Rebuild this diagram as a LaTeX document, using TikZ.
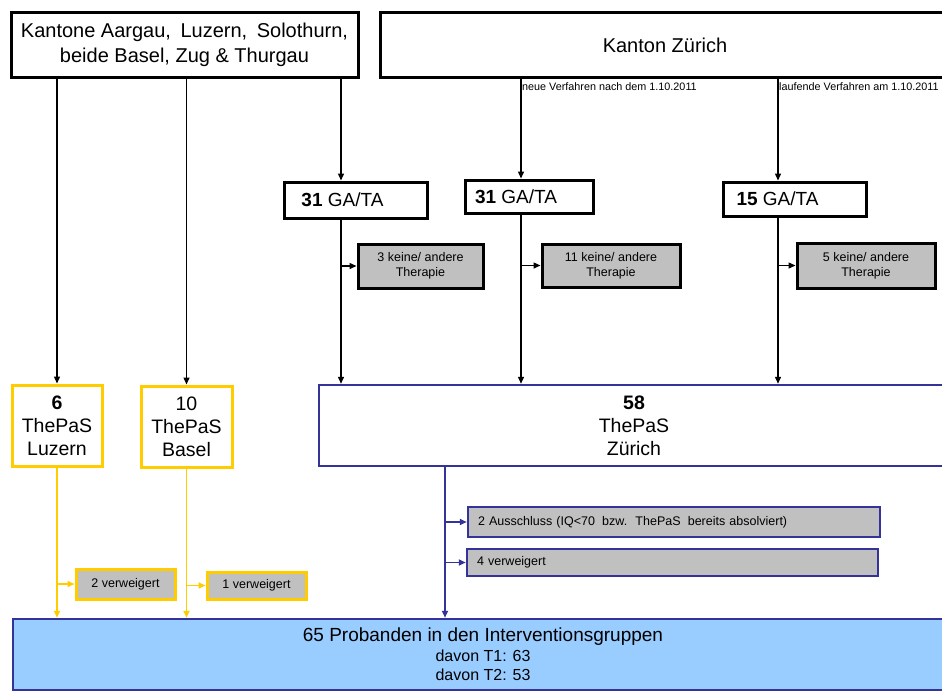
\documentclass[tikz,border=0pt]{standalone}
\usepackage{fontspec}
\setmainfont{Liberation Sans}
\usetikzlibrary{arrows.meta}
\definecolor{ygold}{HTML}{FFCC00}
\definecolor{dblue}{HTML}{333399}
\definecolor{lgrey}{HTML}{C0C0C0}
\definecolor{lblue}{HTML}{99CCFF}
\newcommand\fsz[2]{\fontsize{#1}{#2}\selectfont}
\begin{document}
\begin{tikzpicture}[x=1pt,y=-1pt,
  kbox/.style={draw=black, line width=3pt, fill=white, inner sep=0pt, align=center},
  gbox/.style={draw=black, line width=3pt, fill=lgrey, inner sep=0pt, align=center, font=\fsz{12.5}{15}},
  ybox/.style={draw=ygold, line width=3pt, fill=white, inner sep=0pt, align=center, font=\fsz{19.5}{23}},
  ygbox/.style={draw=ygold, line width=3pt, fill=lgrey, inner sep=0pt, align=center, font=\fsz{12.5}{15}},
  bbox/.style={draw=dblue, line width=2.5pt, fill=white, inner sep=0pt, align=center, font=\fsz{19.5}{23}},
  bgbox/.style={draw=dblue, line width=2.5pt, fill=lgrey, inner sep=0pt, inner xsep=10pt, font=\fsz{12.5}{15}},
  karr/.style={draw=black, line width=1.4pt, -{Triangle[length=7pt,width=6pt]}},
  yarr/.style={draw=ygold, line width=1.7pt, -{Triangle[length=7pt,width=6pt]}},
  barr/.style={draw=dblue, line width=1.7pt, -{Triangle[length=7pt,width=6pt]}},
  small/.style={font=\fsz{10.8}{12}, inner sep=1pt, anchor=west}
]
\clip (0,0) rectangle (942,693);
\fill[white] (0,0) rectangle (942,693);

% top boxes
\node[kbox, minimum width=347pt, minimum height=64pt, font=\fsz{20}{25}] (kant) at (184.5,45)
  {Kantone Aargau,\hspace{4pt} Luzern,\hspace{4pt} Solothurn,\\beide Basel, Zug \& Thurgau};
\node[kbox, minimum width=570pt, minimum height=64pt, font=\fsz{20}{25}] (zt) at (665,45) {Kanton Zürich};

% x positions of connectors
\coordinate (xA) at (341,0);
\coordinate (xB) at (521,0);
\coordinate (xC) at (778,0);
\coordinate (xD) at (445,0);

\node[small] (lblB) at (521,87) {neue Verfahren nach dem 1.10.2011};
\node[small] (lblC) at (778,87) {laufende Verfahren am 1.10.2011};

% GA/TA boxes
\node[kbox, minimum width=143pt, minimum height=36pt, font=\fsz{19}{22}] (gaA) at (355.5,200)
  {\hspace*{-26pt}\textbf{31} GA/TA};
\node[kbox, minimum width=128pt, minimum height=33pt, font=\fsz{19}{22}] (gaB) at (529,196.5)
  {\hspace*{-26pt}\textbf{31} GA/TA};
\node[kbox, minimum width=143pt, minimum height=34pt, font=\fsz{19}{22}] (gaC) at (794.5,199)
  {\hspace*{-34pt}\textbf{15} GA/TA};

% grey boxes
\node[gbox, minimum width=125pt, minimum height=44pt] (gA) at (420.5,266) {3 keine/ andere\\Therapie};
\node[gbox, minimum width=138pt, minimum height=43pt] (gB) at (611,265.5) {11 keine/ andere\\Therapie};
\node[gbox, minimum width=138pt, minimum height=45pt] (gC) at (866,265.5) {5 keine/ andere\\Therapie};

% ThePaS boxes
\node[ybox, minimum width=90pt, minimum height=81pt] (yA) at (57,425.5) {\textbf{6}\\ThePaS\\Luzern};
\node[ybox, minimum width=91pt, minimum height=81pt] (yB) at (186.5,426.5) {10\\ThePaS\\Basel};
\node[bbox, minimum width=630pt, minimum height=81pt] (zh) at (634,425.5) {\textbf{58}\\ThePaS\\Zürich};

% refusal boxes
\node[ygbox, minimum width=99pt, minimum height=30pt] (vA) at (125.5,584) {2 verweigert};
\node[ygbox, minimum width=99pt, minimum height=27pt] (vB) at (256.5,585.5) {1 verweigert};
\node[bgbox, minimum width=412pt, minimum height=30pt, text width=392pt, align=left] (bA) at (674,522)
  {2 Ausschluss (IQ<70\hspace{3pt} bzw.\hspace{2pt} ThePaS\hspace{3pt} bereits absolviert)};
\node[bgbox, minimum width=411pt, minimum height=27pt, text width=391pt, align=left] (bB) at (672.5,562.5)
  {4 verweigert};

% bottom box
\node[draw=dblue, line width=2.5pt, fill=lblue, inner sep=0pt, minimum width=940pt, minimum height=71pt,
  align=center, font=\fsz{16}{19.5}] (bot) at (483,654.5)
  {{\fsz{19}{19.5}\selectfont 65 Probanden in den Interventionsgruppen}\\
   davon T1: 63\\
   davon T2: 53};

% black connectors
\draw[karr] (kant.south -| yA) -- (yA.north);
\draw[karr] (kant.south -| yB) -- (yB.north);
\draw[karr] (kant.south -| xA) -- (gaA.north -| xA);
\draw[karr] (zt.south -| xB) -- (gaB.north -| xB);
\draw[karr] (zt.south -| xC) -- (gaC.north -| xC);
\draw[karr] (gaA.south -| xA) -- (zh.north -| xA);
\draw[karr] (gaB.south -| xB) -- (zh.north -| xB);
\draw[karr] (gaC.south -| xC) -- (zh.north -| xC);
\draw[karr] (gA.west -| xA) -- (gA.west);
\draw[karr] (gB.west -| xB) -- (gB.west);
\draw[karr] (gC.west -| xC) -- (gC.west);

% yellow connectors
\draw[yarr] (yA.south) -- (bot.north -| yA);
\draw[yarr] (yB.south) -- (bot.north -| yB);
\draw[yarr] (vA.west -| yA) -- (vA.west);
\draw[yarr] (vB.west -| yB) -- (vB.west);

% blue connectors
\draw[barr] (zh.south -| xD) -- (bot.north -| xD);
\draw[barr] (bA.west -| xD) -- (bA.west);
\draw[barr] (bB.west -| xD) -- (bB.west);
\end{tikzpicture}
\end{document}
